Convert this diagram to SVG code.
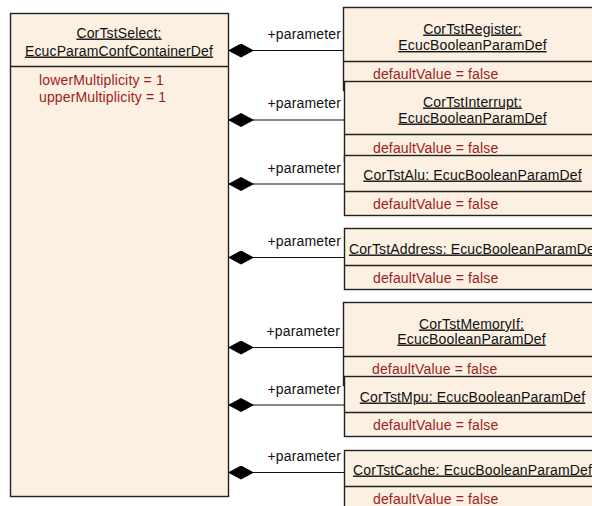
<svg xmlns="http://www.w3.org/2000/svg" width="592" height="506" viewBox="0 0 592 506">
  <defs>
    <marker id="composite" viewBox="0 0 26 14" refX="0" refY="7" markerUnits="userSpaceOnUse" markerWidth="26" markerHeight="14" orient="auto">
      <path d="M0,7 L13,0 L26,7 L13,14 Z" fill="#000"/>
    </marker>
    <style>
      .box { fill: #FBF0E2; stroke: #222; stroke-width: 1.4; }
      .sep { stroke: #222; stroke-width: 1.4; fill: none; }
      text { font-family: "Liberation Sans", Arial, sans-serif; font-size: 14px; letter-spacing: 0.15px; }
      .title { fill: #111; text-anchor: middle; text-decoration: underline; text-underline-offset: 3px; }
      .attr { fill: #A01C1C; }
      .role { fill: #111; }
      .conn { stroke: #111; stroke-width: 1.2; fill: none; marker-start: url(#composite); }
    </style>
  </defs>

  <rect width="592" height="506" fill="#fff"/>

  <!-- container -->
  <g id="CorTstSelect">
    <rect class="box" x="10.5" y="13.5" width="218" height="483"/>
    <line class="sep" x1="10.5" y1="66.5" x2="228.5" y2="66.5"/>
    <text class="title" x="119" y="37.5">CorTstSelect:</text>
    <text class="title" x="119" y="55.5">EcucParamConfContainerDef</text>
    <text class="attr" x="39" y="84.5">lowerMultiplicity = 1</text>
    <text class="attr" x="39" y="102">upperMultiplicity = 1</text>
  </g>

  <!-- composition connectors -->
  <g id="connectors">
    <path class="conn" d="M228,50.5 H344"/>
    <path class="conn" d="M228,120 H344"/>
    <path class="conn" d="M228,184 H344"/>
    <path class="conn" d="M228,257.5 H344"/>
    <path class="conn" d="M228,347.5 H344"/>
    <path class="conn" d="M228,405 H344"/>
    <path class="conn" d="M228,472.5 H344"/>
    <text class="role" x="267.5" y="39">+parameter</text>
    <text class="role" x="267.5" y="107.5">+parameter</text>
    <text class="role" x="267.5" y="173">+parameter</text>
    <text class="role" x="267.5" y="246">+parameter</text>
    <text class="role" x="266.5" y="336">+parameter</text>
    <text class="role" x="267.5" y="393.5">+parameter</text>
    <text class="role" x="267.5" y="461">+parameter</text>
  </g>

  <!-- parameter definitions -->
  <g id="CorTstRegister">
    <rect class="box" x="343.5" y="7.5" width="260" height="83"/>
    <line class="sep" x1="343.5" y1="61.5" x2="603.5" y2="61.5"/>
    <text class="title" x="472.5" y="33.5">CorTstRegister:</text>
    <text class="title" x="472.5" y="50">EcucBooleanParamDef</text>
    <text class="attr" x="373" y="79">defaultValue = false</text>
  </g>

  <g id="CorTstInterrupt">
    <rect class="box" x="344.5" y="81.5" width="260" height="80"/>
    <line class="sep" x1="344.5" y1="134.5" x2="604.5" y2="134.5"/>
    <text class="title" x="472.5" y="106.5">CorTstInterrupt:</text>
    <text class="title" x="472.5" y="122.5">EcucBooleanParamDef</text>
    <text class="attr" x="373" y="152.5">defaultValue = false</text>
  </g>

  <g id="CorTstAlu">
    <rect class="box" x="344.5" y="155.5" width="260" height="60"/>
    <line class="sep" x1="344.5" y1="191.5" x2="604.5" y2="191.5"/>
    <text class="title" x="472.5" y="179.5">CorTstAlu: EcucBooleanParamDef</text>
    <text class="attr" x="373" y="208.5">defaultValue = false</text>
  </g>

  <g id="CorTstAddress">
    <rect class="box" x="344.5" y="228.5" width="260" height="61"/>
    <line class="sep" x1="344.5" y1="265.5" x2="604.5" y2="265.5"/>
    <text class="title" x="474" y="253.5">CorTstAddress: EcucBooleanParamDef</text>
    <text class="attr" x="373" y="282.5">defaultValue = false</text>
  </g>

  <g id="CorTstMemoryIf">
    <rect class="box" x="343.5" y="302.5" width="260" height="83"/>
    <line class="sep" x1="343.5" y1="356.5" x2="603.5" y2="356.5"/>
    <text class="title" x="471.5" y="328.5">CorTstMemoryIf:</text>
    <text class="title" x="471.5" y="343.5">EcucBooleanParamDef</text>
    <text class="attr" x="372" y="374">defaultValue = false</text>
  </g>

  <g id="CorTstMpu">
    <rect class="box" x="344.5" y="376.5" width="260" height="60"/>
    <line class="sep" x1="344.5" y1="412.5" x2="604.5" y2="412.5"/>
    <text class="title" x="472.5" y="401.5">CorTstMpu: EcucBooleanParamDef</text>
    <text class="attr" x="373" y="429.5">defaultValue = false</text>
  </g>

  <g id="CorTstCache">
    <rect class="box" x="344.5" y="450.5" width="260" height="70"/>
    <line class="sep" x1="344.5" y1="486.5" x2="604.5" y2="486.5"/>
    <text class="title" x="472.5" y="474.5">CorTstCache: EcucBooleanParamDef</text>
    <text class="attr" x="373" y="503.5">defaultValue = false</text>
  </g>
</svg>
